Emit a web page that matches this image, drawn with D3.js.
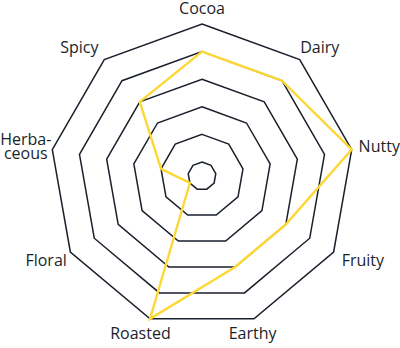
<!DOCTYPE html>
<html>
<head>
<meta charset="utf-8">
<script src="https://cdn.jsdelivr.net/npm/d3@7"></script>
<style>
  body { margin: 0; background: #fff; }
  svg { display: block; }
</style>
</head>
<body>
<script>
// data
const categories = ['Cocoa', 'Dairy', 'Nutty', 'Fruity', 'Earthy', 'Roasted', 'Floral', 'Herba-|ceous', 'Spicy'];
const values = [4, 4, 5, 3, 3, 5, 0, 1, 3];
const levels = [0, 1, 2, 3, 4, 5];

// canvas
const width = 400;
const height = 348;
const cx = 202;
const cy = 176;

const svg = d3.select('body').append('svg').attr('width', width).attr('height', height);
const g = svg.append('g').attr('transform', `translate(${cx}, ${cy})`);

// scales
const angle = d3
  .scaleLinear()
  .domain([0, categories.length])
  .range([0, 2 * Math.PI]);

const r = d3.scaleLinear().domain([0, 5]).range([14, 152]);

const point = (i, v) => [r(v) * Math.sin(angle(i)), -r(v) * Math.cos(angle(i))];

// grid rings (nonagons)
g.append('g')
  .selectAll('polygon')
  .data(levels)
  .enter()
  .append('polygon')
  .attr('points', (lv) => categories.map((c, i) => point(i, lv).join(',')).join(' '))
  .attr('fill', 'none')
  .attr('stroke', '#1a1f2c')
  .attr('stroke-width', 1.5)
  .attr('stroke-linejoin', 'miter');

// data line
g.append('polygon')
  .attr('points', values.map((v, i) => point(i, v).join(',')).join(' '))
  .attr('fill', 'none')
  .attr('stroke', '#fdd835')
  .attr('stroke-width', 2.4)
  .attr('stroke-linejoin', 'miter');

// labels sit on an ellipse round the chart; a few are nudged sideways
const rx = 180;
const ry = 168;
const lineH = 14;
const nudge = { Dairy: 2, Fruity: 5, Earthy: -11, Spicy: -7, 'Herba-|ceous': 1 };

const labels = g
  .append('g')
  .selectAll('text')
  .data(categories)
  .enter()
  .append('text')
  .attr('text-anchor', 'middle')
  .attr('font-family', '"Open Sans", sans-serif')
  .attr('font-size', '16px')
  .attr('fill', '#1a1f2c');

labels.each(function (d, i) {
  const lines = d.split('|');
  const t = d3.select(this);
  const x = rx * Math.sin(angle(i)) + (nudge[d] || 0);
  const y0 = -ry * Math.cos(angle(i)) - ((lines.length - 1) * lineH) / 2;
  lines.forEach((s, k) => {
    t.append('tspan')
      .attr('x', x)
      .attr('y', y0 + k * lineH)
      .attr('dy', '0.35em')
      .text(s);
  });
});
</script>
</body>
</html>
